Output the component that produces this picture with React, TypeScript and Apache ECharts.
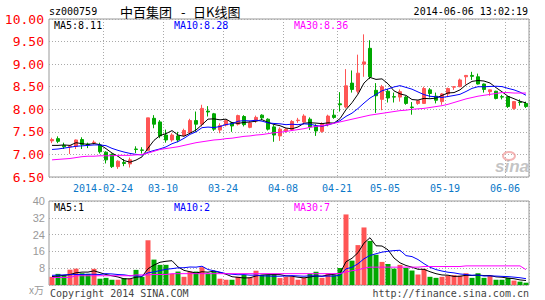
import React, { useEffect, useRef } from "react";
import * as echarts from "echarts";

const dates = [
  "2014-02-11","2014-02-12","2014-02-13","2014-02-14","2014-02-17","2014-02-18","2014-02-19","2014-02-20","2014-02-21","2014-02-24",
  "2014-02-25","2014-02-26","2014-02-27","2014-02-28","2014-03-03","2014-03-04","2014-03-05","2014-03-06","2014-03-07","2014-03-10",
  "2014-03-11","2014-03-12","2014-03-13","2014-03-14","2014-03-17","2014-03-18","2014-03-19","2014-03-20","2014-03-21","2014-03-24",
  "2014-03-25","2014-03-26","2014-03-27","2014-03-28","2014-03-31","2014-04-01","2014-04-02","2014-04-03","2014-04-04","2014-04-08",
  "2014-04-09","2014-04-10","2014-04-11","2014-04-14","2014-04-15","2014-04-16","2014-04-17","2014-04-18","2014-04-21","2014-04-22",
  "2014-04-23","2014-04-24","2014-04-25","2014-04-28","2014-04-29","2014-04-30","2014-05-05","2014-05-06","2014-05-07","2014-05-08",
  "2014-05-09","2014-05-12","2014-05-13","2014-05-14","2014-05-15","2014-05-16","2014-05-19","2014-05-20","2014-05-21","2014-05-22",
  "2014-05-23","2014-05-26","2014-05-27","2014-05-28","2014-05-29","2014-05-30","2014-06-03","2014-06-04","2014-06-05","2014-06-06",
];

const opens = [
  7.30,7.35,7.20,7.17,7.18,7.33,7.23,7.26,7.21,7.05,
  7.00,6.73,6.82,6.79,7.12,7.10,7.09,7.80,7.72,7.43,
  7.32,7.41,7.42,7.48,7.75,7.67,7.96,7.90,7.54,7.65,
  7.70,7.67,7.84,7.60,7.75,7.87,7.78,7.61,7.41,7.52,
  7.55,7.75,7.72,7.78,7.63,7.51,7.66,7.87,8.12,8.05,
  8.58,8.40,9.00,9.35,8.42,8.22,8.40,8.28,8.27,8.27,
  8.05,8.13,8.13,8.43,8.29,8.17,8.34,8.49,8.50,8.72,
  8.75,8.72,8.56,8.39,8.40,8.28,8.28,8.02,8.16,8.13,
];
const closes = [
  7.33,7.29,7.17,7.19,7.32,7.22,7.21,7.27,7.06,6.88,
  6.73,6.85,6.80,6.88,7.11,7.09,7.81,7.67,7.41,7.32,
  7.43,7.32,7.53,7.75,7.67,8.02,7.94,7.56,7.64,7.75,
  7.63,7.86,7.66,7.70,7.82,7.81,7.56,7.43,7.56,7.56,
  7.73,7.76,7.85,7.61,7.52,7.67,7.85,7.82,8.10,8.52,
  8.44,8.80,9.05,8.72,8.30,8.50,8.25,8.27,8.39,8.13,
  8.04,8.19,8.46,8.35,8.20,8.34,8.46,8.50,8.65,8.75,
  8.73,8.56,8.44,8.43,8.24,8.27,8.06,8.17,8.15,8.06,
];
const lows = [
  7.25,7.25,7.12,7.01,7.12,7.12,7.14,7.22,7.02,6.80,
  6.70,6.68,6.74,6.71,7.03,7.02,7.07,7.58,7.36,7.26,
  7.28,7.27,7.40,7.46,7.50,7.62,7.84,7.52,7.47,7.62,
  7.50,7.64,7.62,7.58,7.70,7.76,7.53,7.28,7.30,7.48,
  7.52,7.70,7.66,7.54,7.41,7.48,7.62,7.79,7.95,8.02,
  8.37,8.35,8.72,8.67,7.92,7.98,8.15,8.15,8.17,8.10,
  7.88,8.10,8.12,8.26,8.13,8.10,8.27,8.43,8.49,8.55,
  8.65,8.55,8.37,8.30,8.22,8.22,8.03,7.99,8.08,8.03,
];
const highs = [
  7.37,7.40,7.26,7.20,7.33,7.38,7.26,7.31,7.26,7.07,
  7.02,6.87,6.90,6.93,7.18,7.16,7.81,7.87,7.76,7.55,
  7.47,7.50,7.57,7.79,7.95,8.10,8.07,7.92,7.69,7.77,
  7.72,7.88,7.87,7.74,7.86,7.89,7.80,7.65,7.60,7.58,
  7.76,7.81,7.89,7.82,7.67,7.71,7.88,8.00,8.38,8.89,
  8.86,9.21,9.66,9.53,8.58,8.54,8.45,8.37,8.44,8.29,
  8.16,8.20,8.50,8.47,8.37,8.36,8.48,8.51,8.68,8.76,
  8.83,8.79,8.57,8.43,8.41,8.32,8.29,8.18,8.22,8.17,
];
const volumes = [
  3.9,5.3,4.7,7.3,7.8,5.6,5.3,7.7,3.0,3.4,
  2.5,2.5,3.3,3.0,7.2,3.9,21.3,12.1,9.6,9.6,
  5.3,6.4,3.9,6.4,6.4,8.5,5.3,6.4,3.0,2.5,
  2.5,3.9,4.8,3.5,6.8,4.8,4.8,5.0,3.3,3.9,
  3.9,2.5,3.4,5.3,6.3,3.4,5.6,4.7,8.1,33.6,
  11.6,19.0,27.4,21.0,14.4,11.0,10.0,7.8,9.6,8.1,
  6.9,5.0,7.7,3.9,3.4,3.9,4.5,4.7,4.4,5.6,
  3.4,5.6,3.4,4.5,2.5,2.5,3.4,2.1,1.6,1.1,
];

const ma5Head = [7.20, 7.20, 7.21, 7.20];
const ma10Head = [7.11, 7.12, 7.14, 7.16, 7.18, 7.19, 7.20, 7.21, 7.21];
const ma30 = [
  6.88,6.89,6.90,6.91,6.93,6.95,6.96,6.96,6.97,6.97,
  6.97,6.98,6.98,6.98,6.99,7.00,7.03,7.07,7.11,7.13,
  7.15,7.17,7.20,7.23,7.26,7.28,7.30,7.32,7.33,7.35,
  7.36,7.38,7.40,7.41,7.43,7.44,7.46,7.48,7.49,7.51,
  7.53,7.55,7.57,7.60,7.62,7.64,7.66,7.69,7.72,7.75,
  7.78,7.81,7.84,7.87,7.89,7.91,7.93,7.95,7.97,7.98,
  8.00,8.01,8.02,8.04,8.06,8.08,8.11,8.15,8.19,8.23,
  8.26,8.29,8.31,8.33,8.35,8.37,8.37,8.36,8.36,8.36,
];
const volMa5Head = [4.0, 4.3, 4.6, 5.0];
const volMa10Head = [4.6, 4.7, 4.8, 4.9, 5.0, 5.0, 5.1, 5.1, 5.0];
const volMa30 = [
  3.6,3.6,3.6,3.6,4.4,4.4,4.4,4.4,4.4,4.4,
  4.4,4.4,4.4,4.4,4.8,4.8,4.8,5.0,5.0,5.0,
  5.4,5.4,5.4,5.4,5.4,5.4,5.4,5.4,5.4,5.4,
  5.4,5.4,5.4,5.4,5.4,5.4,5.4,5.4,5.4,5.4,
  5.4,5.4,5.4,5.4,5.4,5.4,5.4,5.4,5.5,6.2,
  6.8,7.2,8.0,8.5,8.5,8.5,8.5,8.5,8.5,8.5,
  8.5,8.5,8.8,8.8,8.8,8.8,8.8,8.8,8.8,9.1,
  9.1,9.1,9.1,9.1,9.1,9.1,9.1,9.1,9.1,7.3,
];

const tickIndex = [9, 19, 29, 39, 48, 56, 66, 76];
const tickLabels = ["2014-02-24", "03-10", "03-24", "04-08", "04-21", "05-05", "05-19", "06-06"];

const titleCode = "sz000759";
const titleName = ["中百集团", "-", "日K线图"];
const titleTime = "2014-06-06 13:02:19";
const priceLegend = ["MA5:8.11", "MA10:8.28", "MA30:8.36"];
const volLegend = ["MA5:1", "MA10:2", "MA30:7"];

function rolling(values: number[], n: number, head: number[]) {
  return values.map((_, i) => {
    if (i < head.length) return head[i];
    let s = 0;
    for (let j = i - n + 1; j <= i; j++) s += values[j];
    return Math.round((s / n) * 1000) / 1000;
  });
}

const UP = "#ff5555";
const DOWN = "#00a800";
const MONO = "'DejaVu Sans Mono', monospace";
const CJK = "'Noto Sans CJK SC', sans-serif";
const GRIDC = "#aaaaaa";

export default function App() {
  const ref = useRef<HTMLDivElement>(null);
  useEffect(() => {
    if (!ref.current) return;
    const chart = echarts.init(ref.current, undefined, { renderer: "svg" });
    const ma5 = rolling(closes, 5, ma5Head);
    const ma10 = rolling(closes, 10, ma10Head);
    const vma5 = rolling(volumes, 5, volMa5Head);
    const vma10 = rolling(volumes, 10, volMa10Head);
    const isTick = (i: number) => tickIndex.indexOf(i) >= 0;
    const split = {
      show: true,
      interval: (i: number) => isTick(i),
      lineStyle: { color: GRIDC, type: [1, 2] as any, width: 1 },
    };
    const txt = (x: number, y: number, text: string, fill: string, font: string, align = "left") => ({
      type: "text",
      x,
      y,
      silent: true,
      z: 100,
      style: {
        text,
        fill,
        font,
        textAlign: align,
        align,
        textVerticalAlign: "middle",
        verticalAlign: "middle",
      },
    });
    const option: any = {
      animation: false,
      backgroundColor: "#ffffff",
      grid: [
        { left: 49, top: 19, width: 480, height: 158, show: true, borderColor: "#999999", borderWidth: 1 },
        { left: 49, top: 201, width: 480, height: 84, show: true, borderColor: "#999999", borderWidth: 1 },
      ],
      xAxis: [
        {
          type: "category",
          gridIndex: 0,
          data: dates,
          boundaryGap: true,
          axisLine: { show: false },
          axisTick: { show: false },
          axisLabel: {
            interval: (i: number) => isTick(i),
            formatter: (_v: string, i: number) => (isTick(i) ? tickLabels[tickIndex.indexOf(i)] : ""),
            color: "#0a78c8",
            fontFamily: MONO,
            fontSize: 10,
            margin: 6,
            padding: [0, 6, 0, 0],
          },
          splitLine: split,
        },
        {
          type: "category",
          gridIndex: 1,
          data: dates,
          boundaryGap: true,
          axisLine: { show: false },
          axisTick: { show: false },
          axisLabel: { show: false },
          splitLine: split,
        },
      ],
      yAxis: [
        {
          type: "value",
          gridIndex: 0,
          min: 6.5,
          max: 10,
          interval: 0.5,
          axisLine: { show: false },
          axisTick: { show: false },
          axisLabel: {
            color: "#ff0000",
            fontFamily: MONO,
            fontSize: 13,
            margin: 5,
            formatter: (v: number) => v.toFixed(2),
          },
          splitLine: { show: true, lineStyle: { color: GRIDC, type: [1, 2], width: 1 } },
        },
        {
          type: "value",
          gridIndex: 1,
          min: 0,
          max: 40,
          interval: 8,
          axisLine: { show: false },
          axisTick: { show: false },
          axisLabel: {
            color: "#999999",
            fontFamily: "'Liberation Sans', Arial, sans-serif",
            fontSize: 11,
            margin: 4,
            formatter: (v: number) => (v === 0 ? "" : String(v)),
          },
          splitLine: { show: true, lineStyle: { color: GRIDC, type: [1, 2], width: 1 } },
        },
      ],
      series: [
        {
          type: "candlestick",
          xAxisIndex: 0,
          yAxisIndex: 0,
          barWidth: 4,
          data: dates.map((_, i) => [opens[i], closes[i], lows[i], highs[i]]),
          itemStyle: { color: UP, color0: DOWN, borderColor: UP, borderColor0: DOWN, borderWidth: 1 },
          z: 2,
        },
        { type: "line", xAxisIndex: 0, yAxisIndex: 0, data: ma5, symbol: "none", lineStyle: { color: "#000000", width: 1 }, z: 3 },
        { type: "line", xAxisIndex: 0, yAxisIndex: 0, data: ma10, symbol: "none", lineStyle: { color: "#0000ff", width: 1 }, z: 3 },
        { type: "line", xAxisIndex: 0, yAxisIndex: 0, data: ma30, symbol: "none", lineStyle: { color: "#ff00ff", width: 1 }, z: 3 },
        {
          type: "bar",
          xAxisIndex: 1,
          yAxisIndex: 1,
          barWidth: 5,
          data: volumes.map((v, i) => ({ value: v, itemStyle: { color: closes[i] >= opens[i] ? UP : DOWN } })),
          z: 2,
        },
        { type: "line", xAxisIndex: 1, yAxisIndex: 1, data: vma5, symbol: "none", lineStyle: { color: "#000000", width: 1 }, z: 3 },
        { type: "line", xAxisIndex: 1, yAxisIndex: 1, data: vma10, symbol: "none", lineStyle: { color: "#0000ff", width: 1 }, z: 3 },
        { type: "line", xAxisIndex: 1, yAxisIndex: 1, data: volMa30, symbol: "none", lineStyle: { color: "#ff00ff", width: 1 }, z: 3 },
      ],
      graphic: [
        txt(49, 11, titleCode, "#000000", `10px ${MONO}`),
        txt(120, 11, titleName[0], "#000000", `13px ${CJK}`),
        txt(181, 11, titleName[1], "#000000", `13px ${CJK}`),
        txt(193, 11, titleName[2], "#000000", `13px ${CJK}`),
        txt(528, 11, titleTime, "#000000", `10px ${MONO}`, "right"),
        txt(54, 25, priceLegend[0], "#000000", `10px ${MONO}`),
        txt(174, 25, priceLegend[1], "#0000ff", `10px ${MONO}`),
        txt(294, 25, priceLegend[2], "#ff00ff", `10px ${MONO}`),
        txt(54, 207, volLegend[0], "#000000", `10px ${MONO}`),
        txt(174, 207, volLegend[1], "#0000ff", `10px ${MONO}`),
        txt(294, 207, volLegend[2], "#ff00ff", `10px ${MONO}`),
        txt(29, 289, "x万", "#999999", `10px ${CJK}`),
        txt(50, 293, "Copyright 2014 SINA.COM", "#444444", `10px ${MONO}`),
        txt(529, 293, "http://finance.sina.com.cn", "#444444", `10px ${MONO}`, "right"),
        {
          type: "ellipse",
          z: 1,
          silent: true,
          shape: { cx: 509, cy: 156, rx: 6, ry: 4 },
          style: { fill: "none", stroke: "rgba(240,150,150,0.7)", lineWidth: 2 },
        },
        txt(512, 166, "sina", "rgba(170,170,170,0.7)", "italic bold 17px 'Liberation Sans', Arial, sans-serif", "center"),
      ],
    };
    chart.setOption(option);
    return () => chart.dispose();
  }, []);
  return <div ref={ref} style={{ position: "fixed", left: 0, top: 0, width: 545, height: 300 }} />;
}
